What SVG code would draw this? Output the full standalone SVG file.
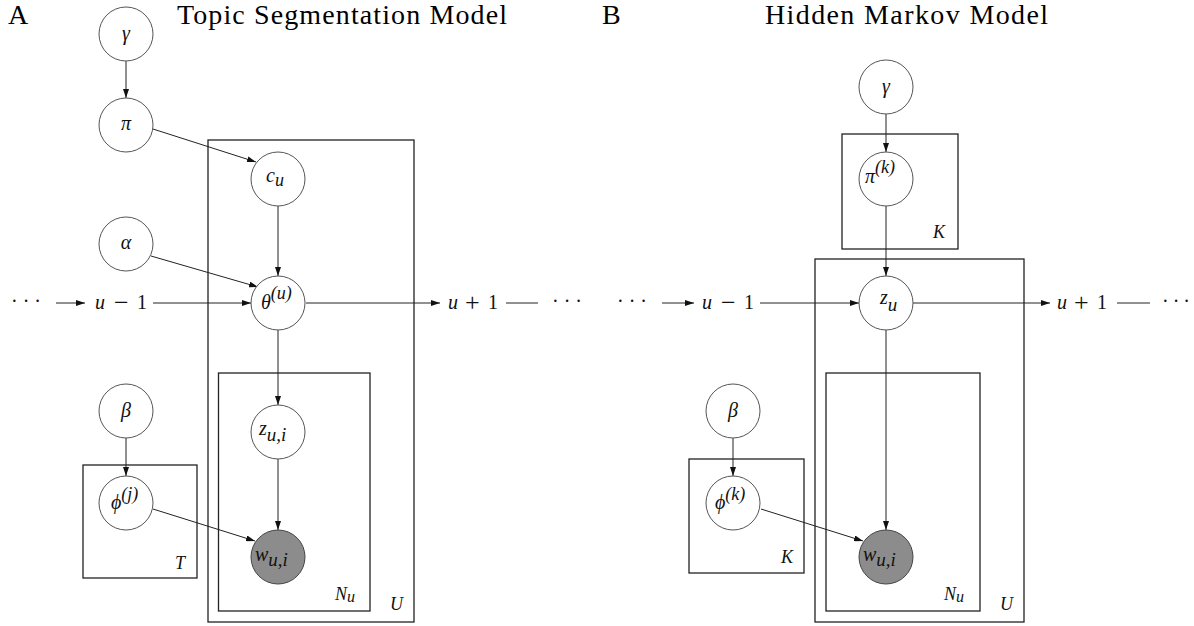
<svg xmlns="http://www.w3.org/2000/svg" width="1194" height="626" viewBox="0 0 1194 626">
<style>
.title{font-family:"Liberation Serif","Times New Roman",serif;font-size:28px;fill:#000}
.node{fill:#fff;stroke:#555;stroke-width:1}
.obs{fill:#8c8c8c;stroke:#444;stroke-width:1}
.plate{fill:none;stroke:#222;stroke-width:1.3}
.lab{font-family:"Liberation Serif","Times New Roman",serif;font-style:italic;font-size:20px;fill:#111}
.sub{font-size:18px}
.pl{font-family:"Liberation Serif","Times New Roman",serif;font-style:italic;font-size:18px;fill:#111}
.seq{font-family:"Liberation Serif","Times New Roman",serif;font-size:20px;fill:#111}
.op{font-size:26px}
.edge{stroke:#222;stroke-width:1;fill:none}
</style>
<defs>
<marker id="ah" markerUnits="userSpaceOnUse" markerWidth="10" markerHeight="6" refX="9" refY="3" orient="auto">
<path d="M0,0 L9,3 L0,6 z" fill="#111"/>
</marker>
</defs>
<rect width="1194" height="626" fill="#fff"/>
<text class="title" x="8" y="24">A</text>
<text class="title" x="177" y="24" textLength="330">Topic Segmentation Model</text>
<text class="title" x="602" y="24">B</text>
<text class="title" x="765" y="24" textLength="283">Hidden Markov Model</text>

<g id="plates">
<rect id="plate-U-A" class="plate" x="208" y="140" width="206" height="482"/>
<rect id="plate-N-A" class="plate" x="218.5" y="373" width="151.5" height="238"/>
<rect id="plate-T-A" class="plate" x="83" y="465" width="114" height="113"/>
<text class="pl" x="175" y="569">T</text>
<text class="pl" x="335" y="600">N<tspan font-size="16" dy="2">u</tspan></text>
<text class="pl" x="390" y="610">U</text>
<rect id="plate-K1-B" class="plate" x="842" y="134" width="116" height="115"/>
<rect id="plate-U-B" class="plate" x="815" y="259" width="209" height="363"/>
<rect id="plate-N-B" class="plate" x="826" y="373" width="154" height="238"/>
<rect id="plate-K2-B" class="plate" x="689" y="459" width="115" height="114"/>
<text class="pl" x="933" y="238">K</text>
<text class="pl" x="781" y="563">K</text>
<text class="pl" x="944" y="600">N<tspan font-size="16" dy="2">u</tspan></text>
<text class="pl" x="1000" y="610">U</text>
</g>

<g id="connectors">
<line class="edge" x1="126" y1="61" x2="126" y2="98" marker-end="url(#ah)"/>
<line class="edge" x1="153" y1="129" x2="256" y2="162" marker-end="url(#ah)"/>
<line class="edge" x1="151" y1="256" x2="258" y2="287" marker-end="url(#ah)"/>
<line class="edge" x1="278" y1="206" x2="278" y2="276" marker-end="url(#ah)"/>
<line class="edge" x1="278" y1="330" x2="278" y2="405" marker-end="url(#ah)"/>
<line class="edge" x1="278" y1="459" x2="278" y2="530" marker-end="url(#ah)"/>
<line class="edge" x1="126" y1="438" x2="126" y2="476" marker-end="url(#ah)"/>
<line class="edge" x1="153" y1="509" x2="255" y2="541" marker-end="url(#ah)"/>
<line class="edge" x1="56" y1="303" x2="85" y2="303" marker-end="url(#ah)"/>
<line class="edge" x1="153" y1="303" x2="251" y2="303" marker-end="url(#ah)"/>
<line class="edge" x1="306" y1="303" x2="440" y2="303" marker-end="url(#ah)"/>
<line class="edge" x1="506" y1="303" x2="538" y2="303"/>

<line class="edge" x1="886" y1="114" x2="886" y2="152" marker-end="url(#ah)"/>
<line class="edge" x1="886" y1="206" x2="886" y2="276" marker-end="url(#ah)"/>
<line class="edge" x1="886" y1="330" x2="886" y2="530" marker-end="url(#ah)"/>
<line class="edge" x1="733" y1="438" x2="733" y2="476" marker-end="url(#ah)"/>
<line class="edge" x1="761" y1="509" x2="863" y2="541" marker-end="url(#ah)"/>
<line class="edge" x1="662" y1="303" x2="694" y2="303" marker-end="url(#ah)"/>
<line class="edge" x1="760" y1="303" x2="859" y2="303" marker-end="url(#ah)"/>
<line class="edge" x1="913" y1="303" x2="1050" y2="303" marker-end="url(#ah)"/>
<line class="edge" x1="1117" y1="303" x2="1150" y2="303"/>
</g>

<g id="seq-labels">
<text class="seq" x="11" y="308" textLength="30">· · ·</text>
<text class="seq" x="95" y="309"><tspan font-style="italic">u</tspan><tspan class="op" x="114" y="310.5">−</tspan><tspan x="137" y="309">1</tspan></text>
<text class="seq" x="448" y="309"><tspan font-style="italic">u</tspan><tspan class="op" x="465" y="310.5">+</tspan><tspan x="488" y="309">1</tspan></text>
<text class="seq" x="552" y="308" textLength="30">· · ·</text>
<text class="seq" x="617" y="308" textLength="30">· · ·</text>
<text class="seq" x="702" y="309"><tspan font-style="italic">u</tspan><tspan class="op" x="721" y="310.5">−</tspan><tspan x="744" y="309">1</tspan></text>
<text class="seq" x="1057" y="309"><tspan font-style="italic">u</tspan><tspan class="op" x="1074" y="310.5">+</tspan><tspan x="1097" y="309">1</tspan></text>
<text class="seq" x="1162" y="308" textLength="28">· · ·</text>
</g>

<g id="gammaA"><circle class="node" cx="126" cy="34" r="27"/><text class="lab" x="126" y="40" text-anchor="middle">γ</text></g>
<g id="piA"><circle class="node" cx="126" cy="125" r="27"/><text class="lab" x="126" y="130" text-anchor="middle">π</text></g>
<g id="cu"><circle class="node" cx="278" cy="179" r="27"/><text class="lab" x="266" y="182">c<tspan class="sub" dy="4">u</tspan></text></g>
<g id="alphaA"><circle class="node" cx="126" cy="244" r="27"/><text class="lab" x="126" y="249" text-anchor="middle">α</text></g>
<g id="thetaA"><circle class="node" cx="278" cy="303" r="27"/><text class="lab" x="261" y="309">θ<tspan class="sub" dy="-10">(u)</tspan></text></g>
<g id="zA"><circle class="node" cx="278" cy="432" r="27"/><text class="lab" x="259" y="435" font-size="17">z<tspan font-size="19" dy="6">u,i</tspan></text></g>
<g id="wA"><circle class="obs" cx="278" cy="557" r="27"/><text class="lab" x="255" y="561">w<tspan font-size="19" dy="5">u,i</tspan></text></g>
<g id="betaA"><circle class="node" cx="126" cy="411" r="27"/><text class="lab" x="126" y="417" text-anchor="middle">β</text></g>
<g id="phiA"><circle class="node" cx="126" cy="503" r="27"/><text class="lab" x="111" y="509">ϕ<tspan class="sub" dy="-9">(j)</tspan></text></g>

<g id="gammaB"><circle class="node" cx="886" cy="87" r="27"/><text class="lab" x="886" y="93" text-anchor="middle">γ</text></g>
<g id="piB"><circle class="node" cx="886" cy="179" r="27"/><text class="lab" x="865" y="183">π<tspan class="sub" dy="-10">(k)</tspan></text></g>
<g id="zB"><circle class="node" cx="886" cy="303" r="27"/><text class="lab" x="880" y="304" font-size="17">z<tspan font-size="19" dy="7">u</tspan></text></g>
<g id="wB"><circle class="obs" cx="886" cy="557" r="27"/><text class="lab" x="863" y="561">w<tspan font-size="19" dy="5">u,i</tspan></text></g>
<g id="betaB"><circle class="node" cx="733" cy="411" r="27"/><text class="lab" x="733" y="417" text-anchor="middle">β</text></g>
<g id="phiB"><circle class="node" cx="733" cy="503" r="27"/><text class="lab" x="715" y="509">ϕ<tspan class="sub" dy="-9">(k)</tspan></text></g>
</svg>
